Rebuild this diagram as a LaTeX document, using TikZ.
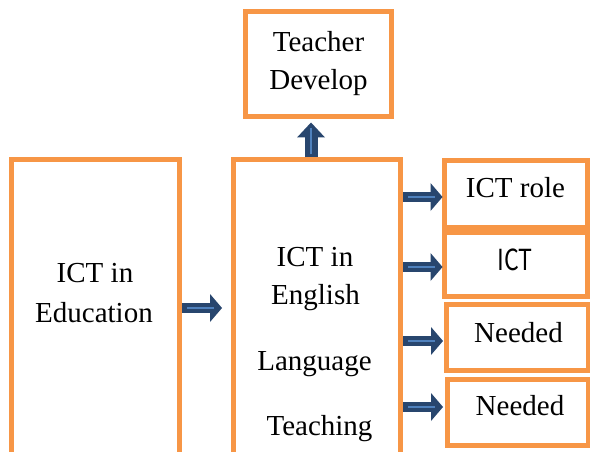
\documentclass[tikz,border=0pt]{standalone}
\usepackage{fontspec}
\setmainfont{Liberation Serif}
\newfontfamily\gothic{Noto Sans CJK JP}
\usetikzlibrary{arrows.meta}
\definecolor{boxorange}{HTML}{F79646}
\definecolor{arrownavy}{HTML}{28466E}
\definecolor{arrowline}{HTML}{4F81BD}
\begin{document}
\begin{tikzpicture}[x=1pt,y=-1pt,
  frame/.style={draw=boxorange, line width=5pt, fill=white, rectangle,
    inner sep=0pt, outer sep=0pt, anchor=north west},
  txt/.style={font=\fontsize{29}{38}\selectfont, anchor=base, inner sep=0pt},
  bigarrow/.style={draw=arrownavy, line width=10pt, line cap=butt,
    -{Triangle[length=12pt,width=28pt,line width=0pt]},
    postaction={draw=arrowline, line width=2.5pt, -, shorten <=5pt, shorten >=8pt}},
  uparrow/.style={draw=arrownavy, line width=13pt, line cap=butt,
    -{Triangle[length=15pt,width=28pt,line width=0pt]},
    postaction={draw=arrowline, line width=2.5pt, -, shorten <=3pt, shorten >=6pt}}]
\useasboundingbox (0,0) rectangle (590,452);
\clip (0,0) rectangle (590,452);

% frames
\node[frame, minimum width=168pt, minimum height=300pt] (edu) at (11.5,160) {};
\node[frame, minimum width=167pt, minimum height=300pt] (elt) at (233.5,160) {};
\node[frame, minimum width=146pt, minimum height=104.5pt] (teach) at (245.5,12) {};
\node[frame, minimum width=143pt, minimum height=66.5pt] (role) at (444.5,160.5) {};
\node[frame, minimum width=143pt, minimum height=64pt] (ict) at (444.5,232.5) {};
\node[frame, minimum width=142.5pt, minimum height=66pt] (needa) at (446,304) {};
\node[frame, minimum width=141pt, minimum height=66pt] (needb) at (447,379.5) {};

% texts
\node[txt] (edu1) at (95,282) {ICT in};
\node[txt] (edu2) at (94,322) {Education};
\node[txt] (teach1) at (318.5,52) {Teacher};
\node[txt] (teach2) at (318.5,90) {Develop};
\node[txt] (elt1) at (315,266) {ICT in};
\node[txt] (elt2) at (315.5,304) {English};
\node[txt] (elt3) at (314.5,370) {Language};
\node[txt] (elt4) at (319.5,435) {Teaching};
\node[txt] (role1) at (515.5,197) {ICT role};
\node[txt, font=\gothic\fontsize{29}{30}\selectfont] (ict1) at (515,270) {\scalebox{0.8}[1]{ICT}};
\node[txt] (needa1) at (518.5,342) {Needed};
\node[txt] (needb1) at (520,415) {Needed};

% arrow heights and columns
\coordinate (ya) at (0,308);
\coordinate (yb) at (0,197);
\coordinate (yc) at (0,267);
\coordinate (yd) at (0,341);
\coordinate (ye) at (0,407);
\coordinate (xu) at (311,0);

% connectors
\draw[bigarrow] ([xshift=2.5pt]edu.east |- ya) -- ([xshift=-11.5pt]elt.west |- ya);
\draw[uparrow] ([yshift=2.5pt]xu |- elt.north) -- ([yshift=-6pt]xu |- teach.south);
\draw[bigarrow] ([xshift=2.5pt]elt.east |- yb) -- ([xshift=-2pt]role.west |- yb);
\draw[bigarrow] ([xshift=2.5pt]elt.east |- yc) -- ([xshift=-2pt]ict.west |- yc);
\draw[bigarrow] ([xshift=2.5pt]elt.east |- yd) -- ([xshift=-3pt]needa.west |- yd);
\draw[bigarrow] ([xshift=2.5pt]elt.east |- ye) -- ([xshift=-4pt]needb.west |- ye);
\end{tikzpicture}
\end{document}
